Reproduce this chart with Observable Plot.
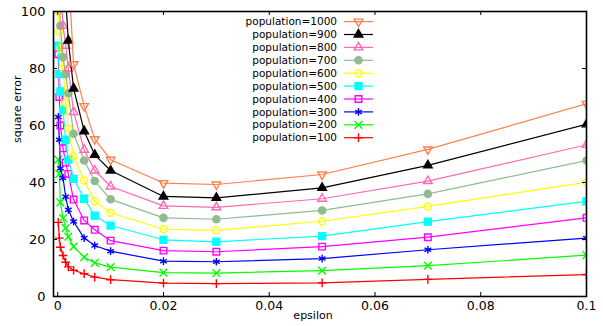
<!DOCTYPE html>
<html><head><meta charset="utf-8">
<script src="https://cdn.jsdelivr.net/npm/d3@7"></script>
<script src="https://cdn.jsdelivr.net/npm/@observablehq/plot@0.6"></script>
<style>
html,body{margin:0;padding:0;background:#fff;}
#chart svg{display:block;}
</style></head><body><div id="chart"></div>
<script>
// ---- data ----
const epsilon = [0.0001, 0.0003, 0.0005, 0.001, 0.0015, 0.002, 0.003, 0.005, 0.007, 0.01, 0.02, 0.03, 0.05, 0.07, 0.1];
const pop1000 = [250, 210, 180, 150, 135, 115, 81.5, 66.8, 55.2, 48, 39.8, 39.3, 42.8, 51.6, 67.6];
const pop900  = [220, 180, 150, 125, 105, 89.8, 73, 58, 49.7, 44.2, 35.1, 34.6, 38.1, 46, 60.4];
const pop800  = [150, 125, 110, 95, 88, 80, 64.7, 51.5, 44.2, 38.6, 31.8, 31.3, 34.3, 40.5, 53.2];
const pop700  = [130, 110, 95, 84, 78, 71.3, 57.1, 47.7, 40.5, 34.1, 27.6, 27.1, 30.2, 36, 47.7];
const pop600  = [100, 93, 87, 80, 68, 59, 49.2, 40.7, 33.4, 29.4, 23.6, 23.2, 26.4, 31.6, 40.1];
const pop500  = [88, 78, 72, 65.3, 55, 48, 41.3, 34.3, 28.4, 24.9, 19.9, 19.2, 21.2, 26.3, 33.4];
const pop400  = [85, 70, 60, 52, 47, 43, 34, 26.7, 23.4, 19.6, 16.1, 15.7, 17.5, 20.8, 27.6];
const pop300  = [63, 55, 45, 41.6, 35, 30.4, 26.3, 20.5, 17.9, 15.9, 12.4, 12.2, 13.3, 16.4, 20.5];
const pop200  = [48, 43, 33, 27.5, 24, 21, 17.5, 13.8, 11.8, 10.3, 8.4, 8.2, 9.1, 10.8, 14.5];
const pop100  = [26, 20.5, 17.3, 14.4, 12.0, 10.4, 9.2, 8.0, 6.8, 5.9, 4.7, 4.5, 4.8, 6.0, 7.7];
const seriesNames = ["population=1000","population=900","population=800","population=700","population=600",
                     "population=500","population=400","population=300","population=200","population=100"];
const seriesValues = [pop1000, pop900, pop800, pop700, pop600, pop500, pop400, pop300, pop200, pop100];
const xTicks = [0, 0.02, 0.04, 0.06, 0.08, 0.1];
const xTickLabels = ["0", "0.02", "0.04", "0.06", "0.08", "0.1"];
const yTicks = [0, 20, 40, 60, 80, 100];
const yTickLabels = ["0", "20", "40", "60", "80", "100"];

// ---- styles ----
const downTriangle = {
  draw(context, size) {
    const y = -Math.sqrt(size / (Math.sqrt(3) * 3));
    context.moveTo(0, -y * 2);
    context.lineTo(-Math.sqrt(3) * y, y);
    context.lineTo(Math.sqrt(3) * y, y);
    context.closePath();
  }
};
const styles = [
  {color: "#ff7f50", symbol: downTriangle, filled: false, r: 3.2},
  {color: "#000000", symbol: "triangle", filled: true, r: 3.2},
  {color: "#ff69b4", symbol: "triangle", filled: false, r: 3.2},
  {color: "#8fbc8f", symbol: "circle", filled: true, r: 3.6},
  {color: "#ffff00", symbol: "circle", filled: false, r: 3.5},
  {color: "#00ffff", symbol: "square", filled: true, r: 3.9},
  {color: "#ff00ff", symbol: "square", filled: false, r: 3.7},
  {color: "#0000ff", symbol: "asterisk", filled: false, r: 3.6},
  {color: "#00ff00", symbol: "times", filled: false, r: 3.6},
  {color: "#ff0000", symbol: "plus", filled: false, r: 2.9}
];

const W = 603, H = 326, mL = 53, mR = 17, mT = 11, mB = 30;
const plotW = W - mL - mR, plotH = H - mT - mB;
const font = "DejaVu Sans";

const marks = [];
for (let s = seriesNames.length - 1; s >= 0; s--) {
  const rows = epsilon.map((e, i) => ({eps: e, v: seriesValues[s][i], name: seriesNames[s]}));
  const st = styles[s];
  marks.push(Plot.line(rows, {x: "eps", y: "v", stroke: st.color, strokeWidth: 1.2, clip: true}));
  marks.push(Plot.dot(rows, {x: "eps", y: "v", symbol: st.symbol, r: st.r,
    fill: st.filled ? st.color : "none", stroke: st.color, strokeWidth: 1.4, clip: true}));
}

const chart = Plot.plot({
  width: W, height: H,
  marginLeft: mL, marginRight: mR, marginTop: mT, marginBottom: mB,
  style: {fontFamily: font, fontSize: "12px", background: "#fff", color: "#000"},
  x: {domain: [-0.0008, 0.1]},
  y: {domain: [0, 100]},
  marks: [
    ...marks,
    Plot.frame({stroke: "black", strokeWidth: 1.6}),
    Plot.tickX(xTicks, {x: d => d, insetTop: plotH - 4, stroke: "black", strokeWidth: 1}),
    Plot.tickX(xTicks, {x: d => d, insetBottom: plotH - 4, stroke: "black", strokeWidth: 1}),
    Plot.tickY(yTicks, {y: d => d, insetRight: plotW - 4, stroke: "black", strokeWidth: 1}),
    Plot.tickY(yTicks, {y: d => d, insetLeft: plotW - 4, stroke: "black", strokeWidth: 1}),
    Plot.axisX(xTicks, {tickSize: 0, tickPadding: 5, fontSize: 12.5, label: null,
      tickFormat: d => xTickLabels[xTicks.indexOf(d)]}),
    Plot.axisY(yTicks, {tickSize: 0, tickPadding: 8, fontSize: 13, label: null,
      tickFormat: d => yTickLabels[yTicks.indexOf(d)]}),
    Plot.text(["square error"], {frameAnchor: "left", dx: -33, dy: -11, rotate: -90,
      lineAnchor: "bottom", fontSize: 11, fill: "black"}),
    Plot.text(["epsilon"], {frameAnchor: "bottom", dx: -7, dy: 22, lineAnchor: "bottom",
      fontSize: 11, fill: "black"})
  ]
});
document.getElementById("chart").appendChild(chart);

// ---- legend ----
const svg = d3.select(chart);
const lg = svg.append("g").attr("font-family", font).attr("font-size", 10.5);
seriesNames.forEach((name, i) => {
  const y = 21.6 + i * 12.9;
  const st = styles[i];
  lg.append("text").attr("x", 337).attr("y", y).attr("dy", "0.35em")
    .attr("text-anchor", "end").attr("fill", "black").text(name);
  lg.append("line").attr("x1", 344).attr("x2", 373).attr("y1", y).attr("y2", y)
    .attr("stroke", st.color).attr("stroke-width", 1.2);
  const sym = typeof st.symbol === "string"
    ? {triangle: d3.symbolTriangle, circle: d3.symbolCircle, square: d3.symbolSquare,
       asterisk: d3.symbolAsterisk, times: d3.symbolTimes, plus: d3.symbolPlus}[st.symbol]
    : st.symbol;
  lg.append("path").attr("transform", `translate(358.5,${y})`)
    .attr("d", d3.symbol(sym, st.r * st.r * Math.PI)())
    .attr("fill", st.filled ? st.color : "none").attr("stroke", st.color).attr("stroke-width", 1.4);
});
</script></body></html>
